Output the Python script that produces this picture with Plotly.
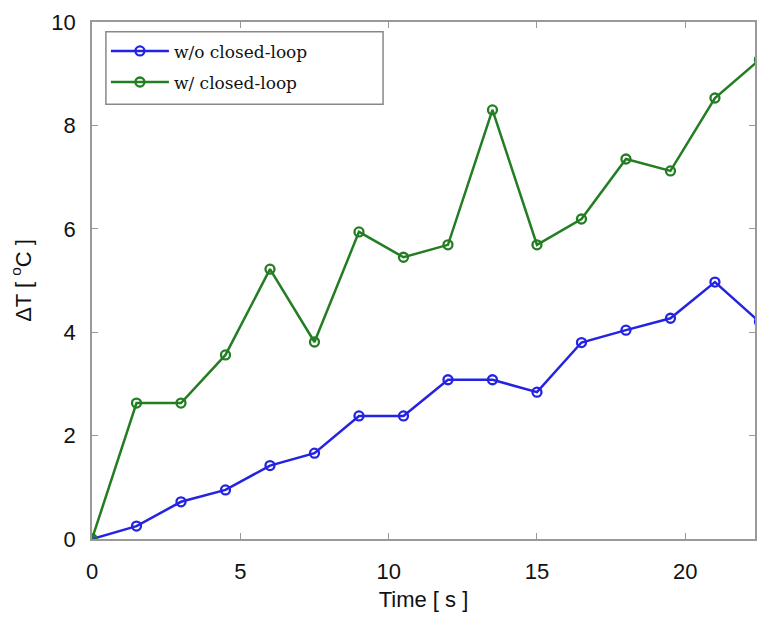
import plotly.graph_objects as go

time_s = [0, 1.5, 3, 4.5, 6, 7.5, 9, 10.5, 12, 13.5, 15, 16.5, 18, 19.5, 21, 22.5]
without_cl = [0, 0.25, 0.72, 0.95, 1.42, 1.66, 2.38, 2.38, 3.08, 3.08, 2.84, 3.80, 4.04, 4.27, 4.97, 4.2]
with_cl = [0, 2.63, 2.63, 3.56, 5.22, 3.81, 5.94, 5.45, 5.69, 8.30, 5.69, 6.19, 7.35, 7.12, 8.53, 9.27]

names = ["w/o closed-loop", "w/ closed-loop"]
colors = ["rgb(35,35,225)", "rgb(35,125,35)"]

fig = go.Figure()
for name, ys, c in zip(names, [without_cl, with_cl], colors):
    fig.add_trace(go.Scatter(
        x=time_s, y=ys, name=name, mode="lines+markers",
        line=dict(color=c, width=2.5),
        marker=dict(symbol="circle-open", size=9, color=c, line=dict(width=2.3, color=c)),
        legendgroup=name,
    ))

axis_font = dict(family="Liberation Sans, Arial", size=22, color="#111")

fig.update_layout(
    width=757, height=620, autosize=False,
    margin=dict(l=92, r=0, t=22, b=81),
    paper_bgcolor="white", plot_bgcolor="white",
    showlegend=True,
    legend=dict(
        x=0.021, y=0.978, xanchor="left", yanchor="top",
        bgcolor="rgba(0,0,0,0)", borderwidth=0,
        font=dict(family="DejaVu Serif", size=17, color="#111"),
        traceorder="grouped", tracegroupgap=6,
        itemwidth=58,
    ),
    shapes=[dict(type="rect", xref="paper", yref="paper",
                 x0=0.021, x1=0.439, y0=0.841, y1=0.981,
                 line=dict(color="#888", width=1.5), fillcolor="rgba(0,0,0,0)", layer="below")],
    xaxis=dict(
        range=[0, 22.35], tickvals=[0, 5, 10, 15, 20],
        showgrid=False, zeroline=False,
        showline=True, linecolor="#999", linewidth=1.5, mirror="ticks",
        ticks="inside", ticklen=6, tickcolor="#999", tickwidth=1.2,
        tickfont=axis_font, ticklabelstandoff=12,
        title=dict(text="Time [ s ]", font=axis_font, standoff=8),
    ),
    yaxis=dict(
        range=[0, 10], tickvals=[0, 2, 4, 6, 8, 10],
        showgrid=False, zeroline=False,
        showline=True, linecolor="#999", linewidth=1.5, mirror="ticks",
        ticks="inside", ticklen=6, tickcolor="#999", tickwidth=1.2,
        tickfont=axis_font, ticklabelstandoff=10,
        title=dict(text="ΔT [ <sup>o</sup>C ]", font=axis_font, standoff=14),
    ),
)

fig.write_html("out.html")
